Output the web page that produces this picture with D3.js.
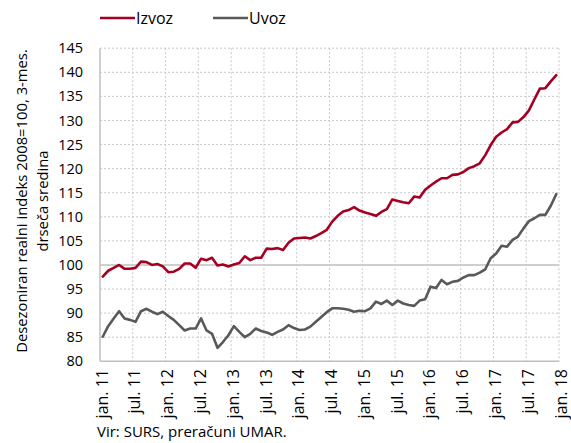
<!DOCTYPE html>
<html>
<head>
<meta charset="utf-8">
<script src="https://cdn.jsdelivr.net/npm/d3@7"></script>
<style>
  body { margin: 0; background: #fff; }
  svg { display: block; font-family: "Open Sans", sans-serif; }
</style>
</head>
<body>
<svg id="chart" width="571" height="443"></svg>
<script>
// monthly values, jan.11 .. dec.17
var izvoz = [
  97.6, 98.8, 99.4, 100.0, 99.2, 99.2, 99.4, 100.7, 100.6, 100.0, 100.2, 99.7,
  98.5, 98.6, 99.2, 100.3, 100.3, 99.4, 101.3, 101.0, 101.5, 99.9, 100.1, 99.7,
  100.1, 100.4, 101.8, 101.0, 101.5, 101.5, 103.4, 103.3, 103.5, 103.1, 104.6, 105.5,
  105.6, 105.7, 105.5, 106.0, 106.6, 107.3, 109.0, 110.2, 111.1, 111.4, 112.0, 111.3,
  110.9, 110.6, 110.2, 111.0, 111.6, 113.6, 113.3, 113.0, 112.8, 114.2, 114.0, 115.6,
  116.5, 117.3, 118.0, 118.0, 118.7, 118.8, 119.3, 120.1, 120.5, 121.1, 122.8, 124.9,
  126.6, 127.5, 128.2, 129.6, 129.7, 130.7, 132.1, 134.4, 136.6, 136.7, 138.1, 139.4
];
var uvoz = [
  85.1, 87.3, 88.9, 90.4, 88.9, 88.6, 88.2, 90.4, 90.9, 90.3, 89.8, 90.3,
  89.4, 88.6, 87.5, 86.4, 86.8, 86.8, 88.9, 86.4, 85.7, 82.8, 84.0, 85.4,
  87.3, 86.1, 85.0, 85.7, 86.8, 86.3, 86.0, 85.5, 86.1, 86.6, 87.5, 86.9,
  86.5, 86.6, 87.2, 88.2, 89.2, 90.2, 91.0, 91.0, 90.9, 90.7, 90.3, 90.5,
  90.4, 91.0, 92.4, 91.9, 92.6, 91.7, 92.6, 92.0, 91.7, 91.5, 92.6, 92.9,
  95.5, 95.2, 96.9, 96.0, 96.5, 96.7, 97.4, 97.9, 97.9, 98.4, 99.1, 101.4,
  102.4, 104.0, 103.8, 105.2, 105.9, 107.6, 109.1, 109.7, 110.4, 110.4, 112.3, 114.7
];
var seriesNames = ["Izvoz", "Uvoz"];
var seriesColors = ["#a50021", "#595959"];
var xTickLabels = ["jan. 11", "jul. 11", "jan. 12", "jul. 12", "jan. 13", "jul. 13", "jan. 14",
  "jul. 14", "jan. 15", "jul. 15", "jan. 16", "jul. 16", "jan. 17", "jul. 17", "jan. 18"];
var yTicks = d3.range(80, 146, 5);

!function(){
  var svg = d3.select("#chart");
  var pLeft = 100, pRight = 559, pTop = 48.2, pBottom = 361.3;

  var x = d3.scaleLinear().domain([0, izvoz.length]).range([pLeft, pRight]);
  var y = d3.scaleLinear().domain([80, 145]).range([pBottom, pTop]);

  // grid
  var grid = svg.append("g");
  grid.selectAll("line.h")
    .data(yTicks.filter(function(d){ return d != 80; }))
    .enter().append("line")
      .attr("x1", pLeft).attr("x2", pRight)
      .attr("y1", function(d){ return y(d); })
      .attr("y2", function(d){ return y(d); })
      .attr("stroke", function(d){ return d == 100 ? "#bfbfbf" : "#c8c8c8"; })
      .attr("stroke-width", function(d){ return d == 100 ? 1.5 : 1; })
      .attr("stroke-dasharray", function(d){ return d == 100 ? null : "2,2"; });
  grid.selectAll("line.v")
    .data(xTickLabels.map(function(d, i){ return i * 6; }).filter(function(d){ return d > 0; }))
    .enter().append("line")
      .attr("x1", function(d){ return x(d); })
      .attr("x2", function(d){ return x(d); })
      .attr("y1", pTop).attr("y2", pBottom)
      .attr("stroke", "#c8c8c8")
      .attr("stroke-dasharray", "2,2");

  // axes
  svg.append("line").attr("x1", pLeft).attr("x2", pLeft).attr("y1", pTop).attr("y2", pBottom)
    .attr("stroke", "#bfbfbf").attr("stroke-width", 1.5);
  svg.append("line").attr("x1", pLeft).attr("x2", pRight).attr("y1", pBottom).attr("y2", pBottom)
    .attr("stroke", "#bfbfbf").attr("stroke-width", 1.5);

  svg.append("g").selectAll("text")
    .data(yTicks).enter().append("text")
      .attr("x", 83).attr("y", function(d){ return y(d); })
      .attr("dy", "0.35em")
      .attr("text-anchor", "end")
      .attr("font-size", "14.5px")
      .attr("fill", "#000")
      .text(function(d){ return d; });

  svg.append("g").selectAll("text")
    .data(xTickLabels).enter().append("text")
      .attr("transform", function(d, i){ return "translate(" + (x(i * 6) + 2) + ",369) rotate(-90)"; })
      .attr("dy", "0.35em")
      .attr("text-anchor", "end")
      .attr("font-size", "16px")
      .attr("fill", "#000")
      .text(function(d){ return d; });

  // y title
  var yt = svg.append("text")
    .attr("transform", "translate(22,201) rotate(-90)")
    .attr("text-anchor", "middle")
    .attr("font-size", "14.8px")
    .attr("fill", "#000");
  yt.append("tspan").attr("x", 0).attr("dy", "0.35em").text("Desezoniran realni indeks 2008=100, 3-mes.");
  yt.append("tspan").attr("x", 0).attr("dy", "1.4em").text("drseča sredina");

  // lines
  var line = d3.line()
    .x(function(d, i){ return x(i + 0.5); })
    .y(function(d){ return y(d); });

  svg.append("g").selectAll("path")
    .data([uvoz, izvoz]).enter().append("path")
      .attr("d", line)
      .attr("fill", "none")
      .attr("stroke", function(d, i){ return i == 0 ? seriesColors[1] : seriesColors[0]; })
      .attr("stroke-width", 2.6)
      .attr("stroke-linejoin", "round")
      .attr("stroke-linecap", "round");

  // legend
  var lg = svg.append("g").selectAll("g")
    .data(seriesNames).enter().append("g")
      .attr("transform", function(d, i){ return "translate(" + (100 + i * 113) + ",18)"; });
  lg.append("line").attr("x1", 0).attr("x2", 35).attr("y1", 0).attr("y2", 0)
    .attr("stroke", function(d, i){ return seriesColors[i]; })
    .attr("stroke-width", 2.6);
  lg.append("text").attr("x", 36).attr("dy", "0.35em")
    .attr("font-size", "16px").attr("fill", "#000")
    .text(function(d){ return d; });

  svg.append("text").attr("x", 97).attr("y", 437)
    .attr("font-size", "15px").attr("fill", "#000")
    .text("Vir: SURS, preračuni UMAR.");
}();
</script>
</body>
</html>
